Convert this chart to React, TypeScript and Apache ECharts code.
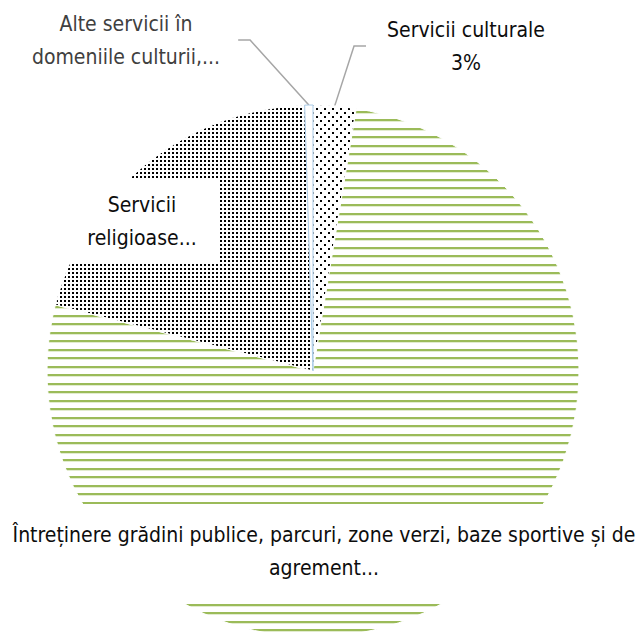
import React, { useEffect, useRef } from "react";
import * as echarts from "echarts";

// ---- data ----
const categories = [
  "Servicii culturale",
  "Întreținere grădini publice, parcuri, zone verzi, baze sportive și de agrement",
  "Servicii religioase",
  "Alte servicii în domeniile culturii, recreerii și religiei",
];
const shares = [2.6, 76.4, 20.5, 0.5];
const labelTexts = [
  "Servicii culturale",
  "Întreținere grădini publice, parcuri, zone verzi, baze sportive și de\nagrement...",
  "Servicii\nreligioase...",
  "Alte servicii în\ndomeniile culturii,...",
];
const showPercent = [true, false, false, false];

// ---- layout / style (not data) ----
const FONT = "'DejaVu Sans Condensed', 'Liberation Sans Narrow', sans-serif";
const labelPlacement = [
  { x: 466, y: 46, padding: [0, 21, 16, 21], color: "#0d0d0d", line: true },
  { x: 324, y: 551, padding: [14, 12, 14, 12], color: "#0d0d0d", line: false },
  { x: 142, y: 221, padding: [10, 23, 10, 23], color: "#0d0d0d", line: false },
  { x: 126, y: 40, padding: [0, 18, 0, 18], color: "#404040", line: true },
];

function makeCanvas(w: number, h: number, draw: (ctx: CanvasRenderingContext2D) => void) {
  const c = document.createElement("canvas");
  c.width = w;
  c.height = h;
  const ctx = c.getContext("2d")!;
  ctx.fillStyle = "#ffffff";
  ctx.fillRect(0, 0, w, h);
  draw(ctx);
  return c;
}

function pattern(c: HTMLCanvasElement) {
  return { image: c, repeat: "repeat", imageWidth: c.width, imageHeight: c.height } as any;
}

export default function App() {
  const ref = useRef<HTMLDivElement>(null);

  useEffect(() => {
    if (!ref.current) return;
    const chart = echarts.init(ref.current, undefined, { renderer: "svg" });

    const stripes = makeCanvas(8, 17, (ctx) => {
      ctx.fillStyle = "#9BBB59";
      ctx.fillRect(0, 0, 8, 2);
      ctx.fillRect(0, 9, 8, 2);
      ctx.fillStyle = "#E2ECCF";
      ctx.fillRect(0, 2, 8, 1);
      ctx.fillRect(0, 11, 8, 1);
    });
    const denseDots = makeCanvas(4, 4, (ctx) => {
      ctx.fillStyle = "#000000";
      ctx.fillRect(0, 0, 2, 2);
    });
    const sparseDots = makeCanvas(8, 8, (ctx) => {
      ctx.fillStyle = "#000000";
      ctx.fillRect(0, 0, 2, 2);
      ctx.fillRect(4, 4, 2, 2);
    });

    const fills = [pattern(sparseDots), pattern(stripes), pattern(denseDots), "#ffffff"];
    const borders = ["#ffffff", "#ffffff", "#ffffff", "#A9CBE8"];

    const data = categories.map((name, i) => ({
      name,
      value: shares[i],
      itemStyle: { color: fills[i], borderColor: borders[i], borderWidth: 1 },
      label: {
        color: labelPlacement[i].color,
        padding: labelPlacement[i].padding,
      },
      labelLine: { show: labelPlacement[i].line },
    }));

    chart.setOption({
      animation: false,
      backgroundColor: "#ffffff",
      series: [
        {
          type: "pie",
          center: [313, 371],
          radius: 266,
          startAngle: 90,
          clockwise: true,
          avoidLabelOverlap: false,
          data,
          label: {
            show: true,
            position: "outside",
            alignTo: "none",
            fontFamily: FONT,
            fontSize: 21,
            lineHeight: 33,
            align: "center",
            backgroundColor: "#ffffff",
            formatter: (p: any) =>
              labelTexts[p.dataIndex] + (showPercent[p.dataIndex] ? "\n" + Math.round(p.percent) + "%" : ""),
          },
          labelLine: {
            length: 20,
            length2: 12,
            smooth: false,
            lineStyle: { color: "#A6A6A6", width: 1.5 },
          },
          labelLayout: (p: any) => ({
            x: labelPlacement[p.dataIndex].x,
            y: labelPlacement[p.dataIndex].y,
            align: "center",
            verticalAlign: "middle",
          }),
          emphasis: { disabled: true },
        },
      ],
    });

    return () => chart.dispose();
  }, []);

  return (
    <div
      ref={ref}
      style={{ position: "fixed", left: 0, top: 0, width: 644, height: 633 }}
    />
  );
}
